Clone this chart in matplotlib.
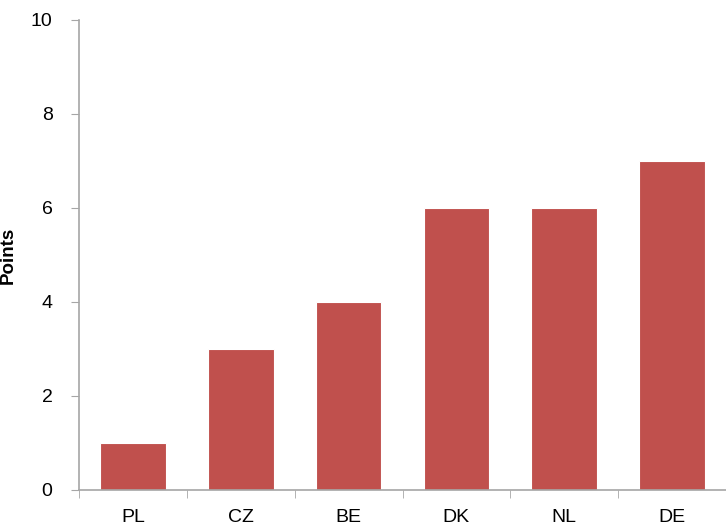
import numpy as np
import matplotlib.pyplot as plt

# datos del gráfico
countries = ['PL', 'CZ', 'BE', 'DK', 'NL', 'DE']
points = [1, 3, 4, 6, 6, 7]

BAR_COLOR = '#C0504D'
AXIS_GRAY = '#A6A6A6'

plt.rcParams['font.family'] = ['Liberation Sans', 'DejaVu Sans']

fig = plt.figure(figsize=(7.26, 5.27), dpi=100)
ax = fig.add_axes([79/726, 37/527, 1 - 79/726, 470/527])

x = np.arange(len(countries))
ax.bar(x, points, width=0.61, color=BAR_COLOR, edgecolor='white', linewidth=0.8, zorder=2)

ax.set_xlim(-0.5, len(countries) - 0.5)
ax.set_ylim(0, 10)
ax.set_yticks(range(0, 11, 2))

# etiquetas centradas sin marca, marcas en los límites de categoría
ax.set_xticks(x)
ax.set_xticklabels(countries)
ax.set_xticks(np.arange(-0.5, len(countries)), minor=True)
ax.tick_params(axis='x', which='major', length=0, pad=14, labelsize=14)
ax.tick_params(axis='x', which='minor', length=6, color=AXIS_GRAY, direction='out')
ax.tick_params(axis='y', length=6, color=AXIS_GRAY, direction='out', pad=13, labelsize=14)

for s in ['top', 'right']:
    ax.spines[s].set_visible(False)
for s in ['left', 'bottom']:
    ax.spines[s].set_color(AXIS_GRAY)
    ax.spines[s].set_linewidth(1.2)

ax.set_ylabel('Points', fontsize=13.5, fontweight='bold', labelpad=10)

fig.savefig('out.png', dpi=100)
